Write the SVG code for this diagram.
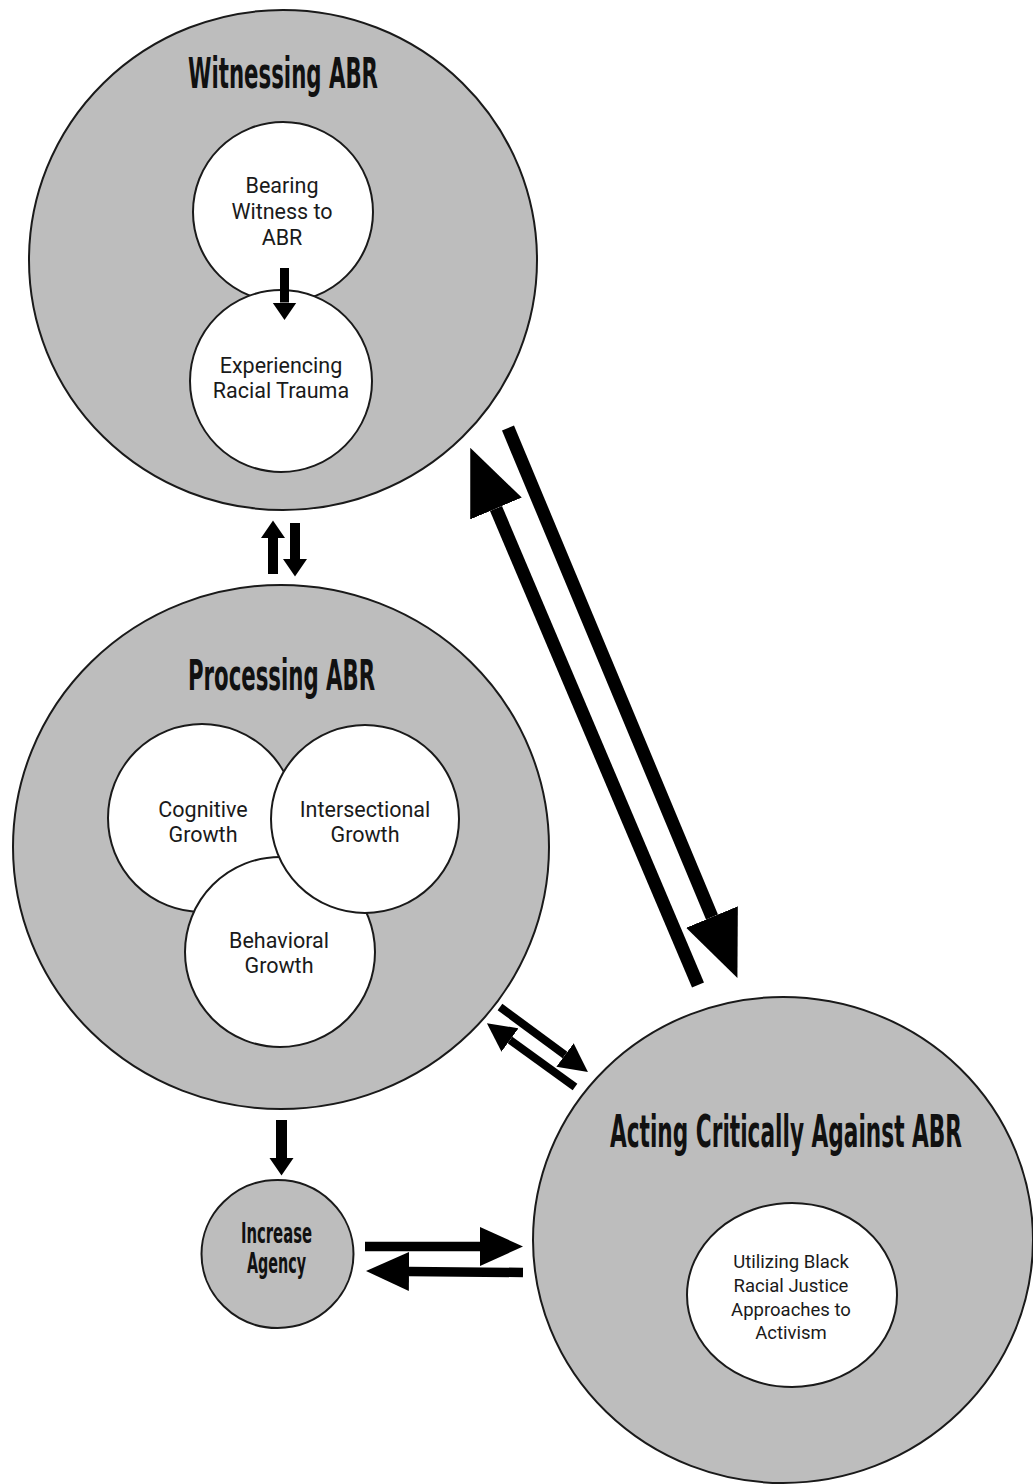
<svg xmlns="http://www.w3.org/2000/svg" width="1033" height="1484" viewBox="0 0 1033 1484">
<style>
.outer{fill:#bdbdbd;stroke:#1a1a1a;stroke-width:2}
.inner{fill:#ffffff;stroke:#1a1a1a;stroke-width:2}
.title{font-family:"DejaVu Sans Condensed","DejaVu Sans",sans-serif;font-weight:bold;fill:#111}
.lbl{font-family:Roboto,"Liberation Sans",sans-serif;font-size:21.5px;fill:#1a1a1a;text-anchor:middle}
.lbl2{font-family:Roboto,"Liberation Sans",sans-serif;font-size:18.5px;fill:#1a1a1a;text-anchor:middle}
.sh{stroke:#000;fill:none;stroke-linecap:butt}
</style>
<defs>
<marker id="hBig" markerUnits="userSpaceOnUse" orient="auto" viewBox="0 -29 66 58" refX="0" refY="0" markerWidth="66" markerHeight="58"><path d="M0,-28 L66,0 L0,28 z" fill="#000"/></marker>
<marker id="hHor" markerUnits="userSpaceOnUse" orient="auto" viewBox="0 -20 44 40" refX="0" refY="0" markerWidth="44" markerHeight="40"><path d="M0,-19.5 L43,0 L0,19.5 z" fill="#000"/></marker>
<marker id="hSm" markerUnits="userSpaceOnUse" orient="auto" viewBox="0 -13 18 26" refX="0" refY="0" markerWidth="18" markerHeight="26"><path d="M0,-12 L17.5,0 L0,12 z" fill="#000"/></marker>
<marker id="hDiag" markerUnits="userSpaceOnUse" orient="auto" viewBox="0 -15 29 30" refX="0" refY="0" markerWidth="29" markerHeight="30"><path d="M0,-14.5 L28.5,0 L0,14.5 z" fill="#000"/></marker>
</defs>

<g id="witnessing">
<ellipse class="outer" cx="283" cy="260" rx="254" ry="250"/>
<text class="title" x="188" y="88" font-size="43" textLength="190" lengthAdjust="spacingAndGlyphs">Witnessing ABR</text>
</g>
<g id="bearing">
<circle class="inner" cx="283" cy="212" r="90"/>
<text class="lbl" x="282" y="193">Bearing</text>
<text class="lbl" x="282" y="219">Witness to</text>
<text class="lbl" x="282" y="245">ABR</text>
</g>
<g id="experiencing">
<circle class="inner" cx="281" cy="381" r="91"/>
<text class="lbl" x="281" y="373">Experiencing</text>
<text class="lbl" x="281" y="398">Racial Trauma</text>
</g>

<g id="processing">
<ellipse class="outer" cx="281" cy="847" rx="268" ry="262"/>
<text class="title" x="188" y="690" font-size="42" textLength="187" lengthAdjust="spacingAndGlyphs">Processing ABR</text>
</g>
<g id="cognitive">
<circle class="inner" cx="202" cy="818" r="94"/>
<text class="lbl" x="203" y="817">Cognitive</text>
<text class="lbl" x="203" y="842">Growth</text>
</g>
<g id="behavioral">
<circle class="inner" cx="280" cy="952" r="95"/>
<text class="lbl" x="279" y="948">Behavioral</text>
<text class="lbl" x="279" y="973">Growth</text>
</g>
<g id="intersectional">
<circle class="inner" cx="365" cy="819" r="94"/>
<text class="lbl" x="365" y="817">Intersectional</text>
<text class="lbl" x="365" y="842">Growth</text>
</g>

<g id="agency">
<ellipse class="outer" cx="277.5" cy="1254" rx="76" ry="74"/>
<text class="title" x="241" y="1243" font-size="29" textLength="71" lengthAdjust="spacingAndGlyphs">Increase</text>
<text class="title" x="247" y="1273" font-size="29" textLength="59" lengthAdjust="spacingAndGlyphs">Agency</text>
</g>

<g id="acting">
<ellipse class="outer" cx="783" cy="1240" rx="250" ry="243"/>
<text class="title" x="610" y="1147" font-size="44" textLength="352" lengthAdjust="spacingAndGlyphs">Acting Critically Against ABR</text>
</g>
<g id="utilizing">
<ellipse class="inner" cx="792" cy="1295" rx="105" ry="92"/>
<text class="lbl2" x="791" y="1268">Utilizing Black</text>
<text class="lbl2" x="791" y="1292">Racial Justice</text>
<text class="lbl2" x="791" y="1316">Approaches to</text>
<text class="lbl2" x="791" y="1339">Activism</text>
</g>

<g id="connectors">
<line class="sh" x1="284.5" y1="268" x2="284.5" y2="302.5" stroke-width="9" marker-end="url(#hSm)"/>
<line class="sh" x1="273" y1="574" x2="273" y2="538" stroke-width="10" marker-end="url(#hSm)"/>
<line class="sh" x1="295" y1="523" x2="295" y2="559" stroke-width="10" marker-end="url(#hSm)"/>
<line class="sh" x1="281.5" y1="1120" x2="281.5" y2="1158" stroke-width="11" marker-end="url(#hSm)"/>
<line class="sh" x1="365" y1="1246.5" x2="480" y2="1246.5" stroke-width="9.5" marker-end="url(#hHor)"/>
<line class="sh" x1="523" y1="1272.5" x2="409" y2="1271.5" stroke-width="9.5" marker-end="url(#hHor)"/>
<line class="sh" x1="698" y1="985" x2="496" y2="508.5" stroke-width="13" marker-end="url(#hBig)"/>
<line class="sh" x1="508" y1="428" x2="712" y2="917" stroke-width="13" marker-end="url(#hBig)"/>
<line class="sh" x1="500" y1="1007" x2="565" y2="1055" stroke-width="8" marker-end="url(#hDiag)"/>
<line class="sh" x1="575" y1="1087" x2="510" y2="1040" stroke-width="8" marker-end="url(#hDiag)"/>
</g>
</svg>
